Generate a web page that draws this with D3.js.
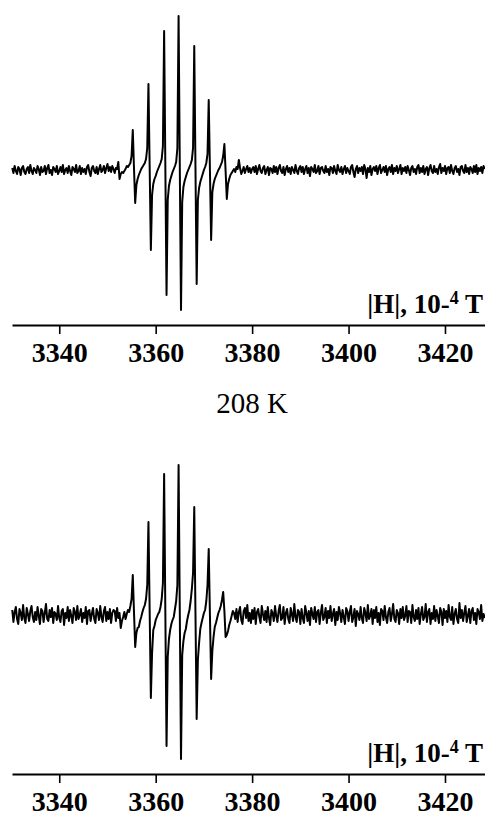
<!DOCTYPE html>
<html>
<head>
<meta charset="utf-8">
<script src="https://cdn.jsdelivr.net/npm/d3@7"></script>
<style>
  html, body { margin: 0; padding: 0; background: #fff; }
  svg { display: block; }
</style>
</head>
<body>
<div id="chart"></div>
<script>
// field sweep of both spectra (10^-4 T): first point and step
const fieldStart = 3330.25;
const fieldStep = 0.25;

const tickValues = [3340, 3360, 3380, 3400, 3420];
const axisLabel = { main: '|H|, 10-', sup: '4', tail: ' T' };
const bottomTitle = '208 K';

// upper spectrum, signal in arbitrary units
const spectrumTop = [
  2,-3,4,-1,-4,3,1,-5,2,4,-2,-4,1,3,-3,5,-1,-4,2,0,
  -3,4,1,-5,3,-2,-1,4,-4,2,5,-3,0,-5,3,1,-2,4,-4,-1,
  3,-2,5,-4,0,2,-3,4,-1,-5,3,1,-2,5,-3,-1,4,-4,2,-2,
  1,-4,3,5,-2,-6,2,4,-1,-3,3,-4,1,5,-2,0,4,-3,2,6,
  -1,3,-2,4,1,-3,2,1,8,-9,-4,-2,-3,-1,1,4,3,5,7,14,
  40,2,-33,-15,-9,-5,-2,1,3,5,7,11,22,86,3,-80,-25,-14,-9,-6,
  -2,1,4,7,11,24,139,5,-125,-30,-16,-10,-6,-2,1,4,8,22,154,4,
  -140,-32,-17,-11,-7,-3,0,3,6,10,22,124,3,-114,-30,-18,-12,-8,-4,0,
  3,7,16,70,0,-70,-22,-14,-9,-6,-3,0,2,5,8,14,26,-1,-29,-14,
  -9,-5,-3,-1,1,-2,3,1,10,2,-4,-1,3,-3,1,4,-2,2,-3,1,
  3,-2,4,-4,1,5,-1,-3,2,4,-4,0,3,-5,2,1,-3,4,-2,3,
  -4,2,5,-1,-3,3,-5,1,4,-2,2,-4,3,0,-3,5,-1,-4,2,4,
  -2,3,-4,1,4,-3,2,-6,3,1,-2,5,-3,-1,4,-4,2,3,-1,-3,
  4,-2,1,-5,3,2,-3,4,-1,-4,5,0,-2,3,-4,1,4,-3,2,-1,
  -4,3,5,-2,-7,1,4,-3,2,-1,3,-4,5,1,-8,2,-2,4,-5,1,
  3,-1,4,-4,2,5,-3,0,3,-2,4,-5,1,3,-2,5,-4,2,-1,4,
  -3,1,5,-4,2,-1,3,-3,4,0,-5,2,4,-2,1,-4,3,5,-3,2,
  -2,4,-4,1,3,-5,2,5,-1,-3,4,-2,1,-4,3,6,-3,2,-1,4,
  -4,2,3,-3,5,-1,-4,2,4,-2,1,-5,3,4,-1,-3,5,-2,2,-4,
  3,1,-3,4,-2,5,-4,2,-1,3,-3,4,1
];

// lower spectrum (208 K)
const spectrumBottom = [
  5,-7,3,8,-4,-9,6,2,-5,10,-3,-8,7,1,-6,4,9,-2,-7,3,
  -5,8,-1,-9,6,4,-7,2,11,-4,-6,5,-2,7,-8,3,1,-5,9,-3,
  -7,4,6,-10,2,-3,8,-6,5,-1,-8,7,3,-5,9,-4,0,6,-7,2,
  -3,8,-9,4,5,-6,1,7,-4,-8,6,2,-5,9,-2,-7,4,8,-6,3,
  -4,6,-8,2,5,4,-6,7,-3,2,-13,-6,-2,3,-4,1,5,3,9,16,
  40,3,-32,-18,-13,-12,-6,-2,3,7,10,16,30,93,4,-83,-38,-15,-11,-5,
  -2,1,3,8,16,32,141,5,-131,-42,-24,-15,-9,-5,-2,6,14,30,150,3,
  -144,-40,-26,-18,-14,-6,0,5,14,26,42,108,2,-104,-45,-28,-14,-8,-3,2,
  5,14,30,66,0,-64,-36,-22,-12,-8,-3,2,5,9,15,23,4,-22,-20,-16,
  -10,-6,-1,4,2,-4,6,-7,3,8,-5,-9,4,7,-3,10,-6,2,-8,5,
  -4,7,-9,3,6,-2,-8,9,1,-5,4,-7,8,-3,-10,5,2,-6,9,-1,
  -7,4,10,-5,-3,8,-9,2,6,-4,-8,7,1,-6,11,-2,-7,5,3,-9,
  6,-3,-8,9,2,-6,4,-10,7,1,-4,8,-7,3,5,-9,2,10,-5,-2,
  7,-8,4,-3,9,-6,1,6,-10,3,-5,8,2,-7,5,-2,-9,7,4,-6,
  3,9,-7,-2,6,-11,4,1,-5,8,-3,-8,7,2,-6,10,-4,-1,6,-9,
  5,-3,8,-7,2,-10,6,4,-5,9,-2,-8,3,7,-6,1,11,-4,-7,5,
  2,-9,6,-3,8,-5,-1,9,-7,4,3,-8,10,-2,-6,5,-4,7,-9,1,
  8,-5,-2,11,-7,3,6,-9,2,-4,9,-6,5,-1,-8,7,3,-10,6,-3,
  4,-7,10,-2,-5,8,-9,1,6,-4,-8,12,-3,5,-6,2,9,-7,-1,6,
  -8,4,7,-5,2,-9,6,3,-4,10,-6,1,-3
];

const width = 485;
const height = 816;
const serif = '"Liberation Serif", "Times New Roman", Times, serif';

const svg = d3.select('#chart').append('svg')
    .attr('width', width)
    .attr('height', height);

svg.append('rect')
    .attr('width', width)
    .attr('height', height)
    .attr('fill', '#fff');

const x = d3.scaleLinear()
    .domain([3330.2, 3428.3])
    .range([12, 485]);

const panels = [
    { data: spectrumTop, axisY: 325, zeroY: 170 },
    { data: spectrumBottom, axisY: 774, zeroY: 615 }
];

panels.forEach(p => {
    // 1 unit of signal = 1 px
    const y = d3.scaleLinear()
        .domain([-170, 170])
        .range([p.zeroY + 170, p.zeroY - 170]);

    const line = d3.line()
        .x((d, i) => x(fieldStart + i * fieldStep))
        .y(d => y(d));

    svg.append('path')
        .datum(p.data)
        .attr('fill', 'none')
        .attr('stroke', '#000')
        .attr('stroke-width', 2)
        .attr('stroke-linejoin', 'round')
        .attr('d', line);

    const xAxis = d3.axisBottom(x)
        .tickValues(tickValues)
        .tickFormat(d3.format('d'))
        .tickSize(9)
        .tickSizeOuter(0)
        .tickPadding(8);

    const g = svg.append('g')
        .attr('transform', `translate(0,${p.axisY})`)
        .call(xAxis)
        .attr('font-family', serif)
        .attr('font-size', 28)
        .attr('font-weight', 'bold');

    g.select('.domain').attr('stroke', '#000').attr('stroke-width', 2);
    g.selectAll('.tick line').attr('stroke', '#000').attr('stroke-width', 1.6);
    g.selectAll('.tick text').attr('fill', '#000');

    // axis caption, right aligned above the axis
    const cap = svg.append('text')
        .attr('x', 483)
        .attr('y', p.axisY - 12)
        .attr('text-anchor', 'end')
        .attr('font-family', serif)
        .attr('font-size', 27)
        .attr('font-weight', 'bold')
        .attr('fill', '#000');
    cap.append('tspan').text(axisLabel.main);
    cap.append('tspan').attr('font-size', 18).attr('dy', -9).text(axisLabel.sup);
    cap.append('tspan').attr('dy', 9).text(axisLabel.tail);
});

svg.append('text')
    .attr('x', 252)
    .attr('y', 413)
    .attr('text-anchor', 'middle')
    .attr('font-family', serif)
    .attr('font-size', 29)
    .attr('fill', '#000')
    .text(bottomTitle);
</script>
</body>
</html>
